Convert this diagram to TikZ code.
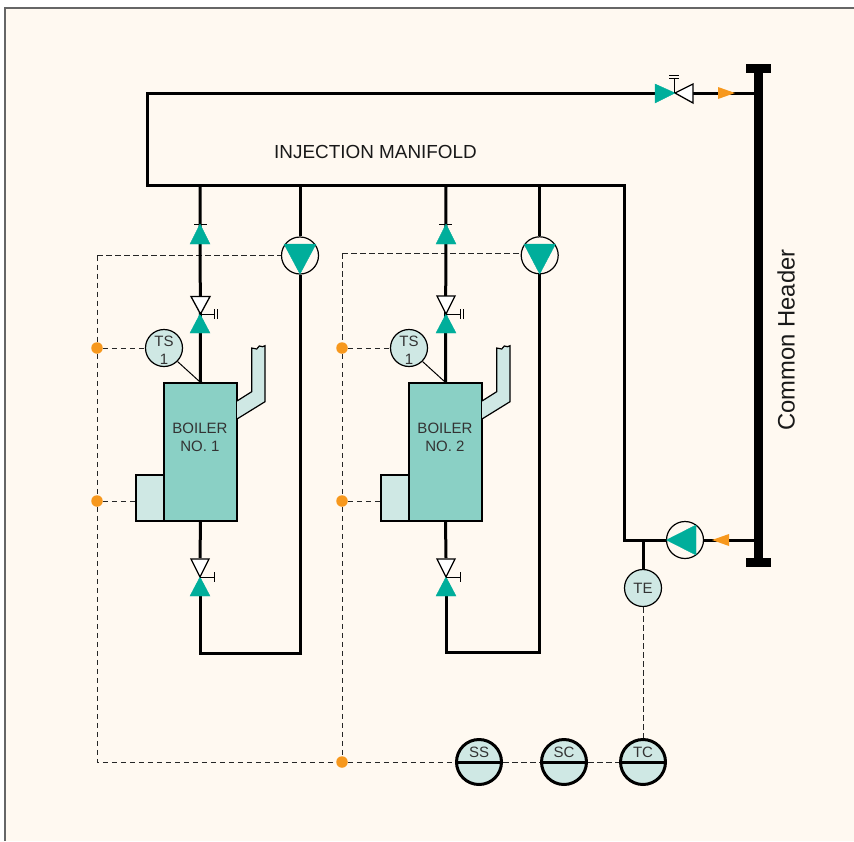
\documentclass[tikz,border=0pt]{standalone}
\usepackage{fontspec}
\setmainfont{Liberation Sans}
\usepackage{tikz}
\definecolor{paper}{HTML}{FFF9F1}
\definecolor{teal}{HTML}{00AE9B}
\definecolor{boilerfill}{HTML}{8AD0C5}
\definecolor{palefill}{HTML}{CFE8E4}
\definecolor{flowtip}{HTML}{F7981D}
\definecolor{labeltext}{HTML}{333333}
\tikzset{
  pipe/.style={line width=3pt, miter limit=10},
  signal/.style={line width=0.8pt, dash pattern=on 5.5pt off 3.5pt, black!85},
  stem/.style={line width=1pt},
  sensor/.style={circle, draw, line width=1.2pt, fill=palefill, minimum size=37pt, inner sep=0pt},
  pump/.style={circle, draw, line width=1.2pt, minimum size=37pt, inner sep=0pt},
  panel/.style={circle, draw, line width=3pt, fill=palefill, minimum size=45pt, inner sep=0pt},
  boiler/.style={rectangle, draw, line width=1.2pt, fill=boilerfill, minimum width=73pt, minimum height=138pt, inner sep=0pt},
  burner/.style={rectangle, draw, line width=1.2pt, fill=palefill, minimum width=28pt, minimum height=46pt, inner sep=0pt},
  labeltxt/.style={inner sep=0pt, align=center, font=\fontsize{15}{18}\selectfont, text=labeltext},
  tealtri/.style={fill=teal, draw=teal, line width=0.4pt},
  whitetri/.style={fill=white, draw=black, line width=1.3pt},
  tiptri/.style={fill=flowtip},
  junction/.style={circle, fill=flowtip, minimum size=11.5pt, inner sep=0pt}
}
\begin{document}
\begin{tikzpicture}[x=1pt,y=-1pt]
\useasboundingbox (0,0) rectangle (854,841);
\fill[paper] (5,8) rectangle (854,841);
\draw[black!60, line width=1.2pt] (5,841) -- (5,8) -- (854,8);

\node[boiler] (B1) at (200.5,452) {};
\node[boiler] (B2) at (445.5,452) {};
\node[burner] (F1) at (150,498) {};
\node[burner] (F2) at (395,498) {};
\node[labeltxt] (B1t) at (200,437) {BOILER\\NO. 1};
\node[labeltxt] (B2t) at (445,437) {BOILER\\NO. 2};
\node[sensor] (TS1) at (164,348) {};
\node[sensor] (TS2) at (409,348) {};
\node[sensor] (TE) at (643,588) {};
\node[labeltxt] (TS1t) at (164,350.5) {TS\\1};
\node[labeltxt] (TS2t) at (409,350.5) {TS\\1};
\node[labeltxt] (TEt) at (643,588) {TE};
\node[pump] (P1) at (300,255.5) {};
\node[pump] (P2) at (539.7,255.3) {};
\node[pump] (P3) at (685,540) {};
\node[panel] (SS) at (479,762) {};
\node[panel] (SC) at (564,762) {};
\node[panel] (TC) at (643,762) {};
\node[junction] (J1) at (97,348) {};
\node[junction] (J2) at (97,501) {};
\node[junction] (J3) at (342,348) {};
\node[junction] (J4) at (342,501) {};
\node[junction] (J5) at (342,762) {};
\coordinate (SigA) at (97,255.5);
\coordinate (SigB) at (97,762);
\coordinate (SigC) at (342,253.3);
\coordinate (M1) at (147,93);
\coordinate (M2) at (147,185);
\coordinate (M3) at (624.5,185);
\coordinate (M4) at (624.5,540);
\coordinate (V0) at (655,93);
\coordinate (V1) at (693,93);
\coordinate (V2) at (758,93);
\coordinate (H1) at (758,68);
\coordinate (H2) at (758,563);
\coordinate (H3) at (758,540);
\coordinate (TEj) at (643,540);
\coordinate (T1) at (200,185);
\coordinate (T2) at (446,185);
\coordinate (T3) at (300,185);
\coordinate (T4) at (539.7,185);
\coordinate (R1) at (300,653);
\coordinate (R2) at (200,653);
\coordinate (R3) at (539.7,652);
\coordinate (R4) at (446,652);
\coordinate (R5) at (200,596);
\coordinate (R6) at (446,596);

\draw[signal] (SigA) -- (P1.west);
\draw[signal] (SigA) -- (J1);
\draw[signal] (J1) -- (J2);
\draw[signal] (J2) -- (SigB) -- (J5);
\draw[signal] (SigC) -- (SigC -| P2.west);
\draw[signal] (SigC) -- (J3);
\draw[signal] (J3) -- (J4);
\draw[signal] (J4) -- (J5);
\draw[signal] (J5) -- (SS.west);
\draw[signal] (J1) -- (TS1.west);
\draw[signal] (J3) -- (TS2.west);
\draw[signal] (J2) -- (J2 -| F1.west);
\draw[signal] (J4) -- (J4 -| F2.west);
\draw[signal] (SS.east) -- (SC.west);
\draw[signal] (SC.east) -- (TC.west);
\draw[signal] (TE.south) -- (TC.north);

\draw[pipe] (V0) -- (M1) -- (M2) -- (M3) -- (M4) -- (P3.west);
\draw[pipe] (V1) -- (V2);
\draw[pipe] (P3.east) -- (H3);
\draw[pipe] (TEj) -- (TE.north);
\draw[line width=9pt] (H1) -- (H2);
\draw[line width=9pt] (746,68.3) -- (771,68.3);
\draw[line width=9pt] (746,562.8) -- (771,562.8);

\draw[pipe] (T1) -- (B1.north);
\draw[pipe] (T2) -- (B2.north);
\draw[pipe] (T3) -- (P1.north);
\draw[pipe] (T4) -- (P2.north);
\draw[pipe] (P1.south) -- (R1) -- (R2) -- (R5);
\draw[pipe] (P2.south) -- (R3) -- (R4) -- (R6);
\draw[pipe] (B1.south) -- (200,558);
\draw[pipe] (B2.south) -- (446,558);
\draw[line width=1pt] (TS1.south east) -- (B1.north);
\draw[line width=1pt] (TS2.south east) -- (B2.north);

\draw[stem] (194,224) -- (207,224);
\fill[tealtri] (190,244) -- (200,224) -- (210,244) -- cycle;
\draw[whitetri] (191,296.5) -- (210,296.5) -- (200.5,314) -- cycle;
\fill[tealtri] (190,333) -- (200,314) -- (210,333) -- cycle;
\draw[stem] (200,314) -- (214,314);
\draw[stem] (214,309) -- (214,319) (217,309) -- (217,319);
\draw[whitetri] (191,559) -- (209,559) -- (200,577) -- cycle;
\fill[tealtri] (190,596) -- (200,577) -- (210,596) -- cycle;
\draw[stem] (200,577) -- (214,577);
\draw[stem] (214,572) -- (214,582);

\draw[stem] (439,224) -- (452,224);
\fill[tealtri] (436,244) -- (446,224) -- (456,244) -- cycle;
\draw[whitetri] (437,296) -- (455,296) -- (446,314) -- cycle;
\fill[tealtri] (436,333) -- (446,314) -- (456,333) -- cycle;
\draw[stem] (446,314) -- (460,314);
\draw[stem] (460,309) -- (460,319) (463,309) -- (463,319);
\draw[whitetri] (437,559) -- (455,559) -- (446,577) -- cycle;
\fill[tealtri] (436,596) -- (446,577) -- (456,596) -- cycle;
\draw[stem] (446,577) -- (460,577);
\draw[stem] (460,572) -- (460,582);

\fill[tealtri] (284,244) -- (316,244) -- (300,274) -- cycle;
\fill[tealtri] (524,244) -- (555.5,244) -- (539.7,274) -- cycle;
\fill[tealtri] (666.5,540) -- (696,525) -- (696,555) -- cycle;

\draw[whitetri] (693,84) -- (693,103) -- (675,93) -- cycle;
\fill[tealtri] (655,84) -- (655,103) -- (675,93) -- cycle;
\draw[stem] (674,93) -- (674,78);
\draw[stem] (669,78) -- (679,78) (669,75) -- (679,75);
\fill[tiptri] (718,87) -- (718,99) -- (735,93) -- cycle;
\fill[tiptri] (712,540) -- (729,534) -- (729,546) -- cycle;

\draw[fill=palefill, line width=1.2pt] (237,401) -- (251.7,391.7) -- (251.7,348) -- (256.7,349) -- (259.3,346) -- (262.7,346.7) -- (265,345.7) -- (265,401.7) -- (237,419);
\draw[fill=palefill, line width=1.2pt] (482,401) -- (496.7,391.7) -- (496.7,348) -- (501.7,349) -- (504.3,346) -- (507.7,346.7) -- (510,345.7) -- (510,401.7) -- (482,419);

\draw[line width=3pt] (SS.west) -- (SS.east);
\draw[line width=3pt] (SC.west) -- (SC.east);
\draw[line width=3pt] (TC.west) -- (TC.east);
\node[labeltxt] (SSt) at (479,752) {SS};
\node[labeltxt] (SCt) at (564,752) {SC};
\node[labeltxt] (TCt) at (643,752) {TC};
\node[inner sep=0pt, font=\fontsize{18.9}{22}\selectfont, text=black!90] (Mt) at (375.5,151.5) {INJECTION MANIFOLD};
\node[inner sep=0pt, rotate=90, font=\fontsize{23.8}{26}\selectfont, text=black!90] (Ht) at (786,340) {Common Header};
\end{tikzpicture}
\end{document}
